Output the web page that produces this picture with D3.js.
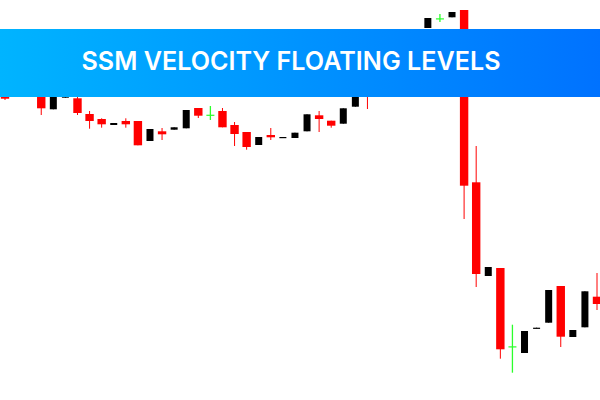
<!DOCTYPE html>
<html>
<head>
<meta charset="utf-8">
<style>
  html, body { margin: 0; padding: 0; background: #fff; }
  svg { display: block; }
</style>
<script src="https://cdn.jsdelivr.net/npm/d3@7"></script>
</head>
<body>
<div id="chart"></div>
<script>
const title = "SSM VELOCITY FLOATING LEVELS";

// bars 1, 2 and 31-34 sit fully behind the banner, so those values are estimates
const bars = d3.range(50);
const open = [320, 330, 345, 315, 290.7, 302.3, 301.7, 286, 281, 275, 279, 279, 259, 268.7, 270.3, 271.7, 292, 285.3, 289, 275, 268, 255, 265, 262.4, 262, 268.7, 284.7, 279.3, 276.3, 293.3, 340, 325, 340, 350, 358, 372, 381.7, 382.7, 390, 217.7, 124, 132, 53.7, 47, 71.7, 77.3, 114, 63, 72.7, 103.3];
const close = [301.3, 345, 335, 291.7, 320, 318, 287, 279, 275.7, 277, 275.7, 254.7, 271, 265.7, 272.7, 290, 284.3, 285.3, 272.7, 266, 253, 263, 262.7, 263, 267.3, 285.7, 281, 274.3, 291.7, 325, 320, 340, 350, 358, 369, 382, 381.7, 388, 214.3, 126, 133, 50.7, 53.7, 69, 72.3, 110, 63.3, 70, 108.7, 96];
const high = [325, 350, 350, 318, 322, 320, 303, 289, 281.7, 277, 281.7, 279, 271, 272, 272.7, 290, 292, 294, 292, 278, 268, 263, 272, 263, 267.3, 285.7, 289, 279.3, 291.7, 330, 345, 345, 352, 360, 370, 382, 386, 388, 390, 254, 133, 132, 75.3, 69, 72.3, 110, 114, 70, 108.7, 127];
const low = [300, 325, 330, 285, 290.7, 302.3, 285, 271.3, 272.3, 275, 272.3, 254.7, 259, 260, 270.3, 271.7, 282, 280, 272.7, 254, 250.3, 255, 260, 262.4, 262, 268.7, 268, 272.3, 276.3, 293.3, 291, 322, 338, 348, 356, 372, 378, 382.7, 181, 113, 124, 41.3, 27.3, 47, 71.7, 77.3, 53, 63, 72.7, 90];

const width = 600;
const height = 400;

const x = d3.scaleLinear().domain([0, 49]).range([5, 597]);
const y = d3.scaleLinear().domain([0, 400]).range([height, 0]);

const colour = i => close[i] === open[i] ? "#2bff2b" : close[i] < open[i] ? "#ff0000" : "#000000";
const bodyWidth = i => close[i] === open[i] ? 8 : close[i] < open[i] ? 8.4 : 7;

const svg = d3.select("#chart").append("svg")
  .attr("width", width)
  .attr("height", height);

const defs = svg.append("defs");
const grad = defs.append("linearGradient").attr("id", "banner");
grad.append("stop").attr("offset", "0%").attr("stop-color", "#00b4ff");
grad.append("stop").attr("offset", "100%").attr("stop-color", "#0072ff");

const candle = svg.append("g")
  .selectAll("g")
  .data(bars)
  .join("g")
    .attr("transform", i => `translate(${x(i)},0)`);

candle.append("line")
  .attr("y1", i => y(high[i]))
  .attr("y2", i => y(low[i]))
  .attr("stroke", colour)
  .attr("stroke-width", i => close[i] === open[i] ? 1.3 : 1);

candle.append("rect")
  .attr("x", i => -bodyWidth(i) / 2)
  .attr("width", bodyWidth)
  .attr("y", i => y(Math.max(open[i], close[i])))
  .attr("height", i => Math.max(1.2, Math.abs(open[i] - close[i]) * (y(0) - y(1))))
  .attr("fill", colour);

svg.append("rect")
  .attr("x", 0)
  .attr("y", 29)
  .attr("width", width)
  .attr("height", 68)
  .attr("fill", "url(#banner)");

svg.append("text")
  .attr("x", 81.5)
  .attr("y", 70)
  .attr("font-family", "Inter, 'Open Sans', sans-serif")
  .attr("font-size", 26)
  .attr("font-weight", 600)
  .attr("fill", "#ffffff")
  .attr("textLength", 419)
  .attr("lengthAdjust", "spacingAndGlyphs")
  .text(title);
</script>
</body>
</html>
